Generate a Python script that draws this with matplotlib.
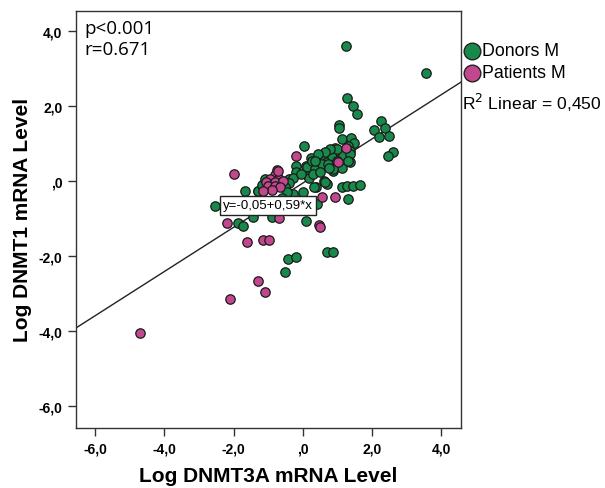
import matplotlib
matplotlib.use("Agg")
import matplotlib.pyplot as plt
from matplotlib.lines import Line2D
import numpy as np

# Log DNMT3A (x) and Log DNMT1 (y) expression, donors
donors_x = [1.25, 3.57, 1.29, 1.44, 1.58, 1.04, 1.06, 2.25, 2.06, 2.38, 2.19, 2.48,
            2.62, 2.46, 1.13, 1.40, 1.48, 1.32, 1.35, 0.04, 0.23, -0.19, -0.19, -0.39,
            0.10, 0.21, 0.48, 0.60, 0.55, 0.69, 0.84, 0.93, 1.08, 1.17, 1.37, 1.35,
            1.13, 0.88, 0.60, 0.69, 0.38, 1.14, 1.27, 1.45, 1.64, 0.00, 1.32, 0.98,
            0.79, 0.64, 0.45, -0.27, -0.40, -0.51, 0.12, 0.16, 0.28, -1.67, -1.28,
            0.17, -0.27, -0.46, -1.30, -1.19, -1.09, -2.53, -1.86, -1.73, -1.43,
            -0.90, 0.09, 0.69, 0.87, -0.44, -0.20, -0.50, 0.31, 0.64, 0.36, 0.55,
            0.74, 0.88, 0.98, 1.32, 0.42, 0.35, 0.75, 0.30, 0.50, -0.05, -0.60]
donors_y = [3.62, 2.90, 2.22, 2.01, 1.79, 1.50, 1.42, 1.62, 1.38, 1.41, 1.17, 1.22,
            0.79, 0.68, 1.13, 1.15, 1.03, 0.95, 0.82, 0.94, 0.61, 0.42, 0.24, 0.06,
            0.40, 0.33, 0.68, 0.64, 0.42, 0.51, 0.68, 0.88, 0.79, 0.70, 0.73, 0.51,
            0.35, 0.28, 0.02, -0.07, -0.16, -0.16, -0.13, -0.12, -0.10, -0.28, -0.47,
            0.86, 0.86, 0.79, 0.73, 0.09, -0.05, -0.14, 0.37, 0.15, 0.55, -0.27,
            -0.27, 0.10, -0.34, -0.29, -0.25, -0.09, 0.06, -0.65, -1.11, -1.20,
            -0.96, -0.96, -1.05, -1.88, -1.88, -2.07, -2.01, -2.43, -0.16, -0.03,
            0.33, 0.46, 0.46, 0.33, 0.55, 0.55, -0.61, 0.55, 0.35, 0.20, 0.25,
            0.20, -0.45]

# Log DNMT3A (x) and Log DNMT1 (y) expression, patients
patients_x = [-4.70, -2.11, -1.08, -1.30, -1.62, -1.16, -0.98, -2.20, -0.68, 0.48,
              0.50, 0.55, 0.93, -1.99, -0.19, -0.75, 1.25, 1.03, -0.80, -0.95,
              -0.70, -1.07, -0.80, -0.56, -0.99, -0.80, -0.66, -0.90, -1.14, -0.72]
patients_y = [-4.05, -3.14, -2.95, -2.67, -1.61, -1.57, -1.57, -1.12, -0.99, -1.18,
              -1.22, -0.43, -0.41, 0.19, 0.67, 0.31, 0.88, 0.51, 0.18, 0.06,
              0.06, -0.03, -0.03, 0.02, -0.12, -0.13, -0.14, -0.23, -0.25, 0.28]

fit_intercept = -0.05
fit_slope = 0.59
r_squared = 0.450
ticks = [-6.0, -4.0, -2.0, 0.0, 2.0, 4.0]

green = "#17894a"
pink = "#c2478e"


def comma_fmt(v):
    s = f"{v:.1f}".replace(".", ",")
    if s.startswith("0,"):
        s = s[1:]
    return s


fig = plt.figure(figsize=(6.05, 4.89), dpi=100)
ax = fig.add_axes([0.125, 0.123, 0.637, 0.853])
ax.set_xlim(-6.56, 4.57)
ax.set_ylim(-6.58, 4.55)

ax.scatter(donors_x, donors_y, s=46, color=green, edgecolor="#1a1a1a",
           linewidth=0.9, zorder=3)
ax.scatter(patients_x, patients_y, s=46, color=pink, edgecolor="#1a1a1a",
           linewidth=0.9, zorder=3)

xs = np.array(ax.get_xlim())
ax.plot(xs, fit_intercept + fit_slope * xs, color="#222222", lw=1.0, zorder=2)

ax.text(-1.0, -0.645, "y=-0,05+0,59*x", ha="center", va="center",
        fontsize=9.5, family="Liberation Sans", zorder=5,
        bbox=dict(boxstyle="square,pad=0.25", facecolor="white",
                  edgecolor="#222222", linewidth=1.0))

ax.text(9 / 385, 1 - 8 / 417, "p<0.001\nr=0.671", transform=ax.transAxes,
        ha="left", va="top", fontsize=13.5, family="Open Sans",
        linespacing=1.2)

ax.set_xticks(ticks)
ax.set_yticks(ticks)
ax.set_xticklabels([comma_fmt(t) for t in ticks], fontweight="bold",
                   family="Liberation Sans", fontsize=10)
ax.set_yticklabels([comma_fmt(t) for t in ticks], fontweight="bold",
                   family="Liberation Sans", fontsize=10)
ax.tick_params(direction="out", length=6, width=1, color="#333333",
               top=False, right=False)
for sp in ax.spines.values():
    sp.set_color("#333333")
    sp.set_linewidth(1.0)

ax.set_xlabel("Log DNMT3A mRNA Level", fontsize=15, fontweight="bold",
              family="Liberation Sans", labelpad=8)
ax.set_ylabel("Log DNMT1 mRNA Level", fontsize=15, fontweight="bold",
              family="Liberation Sans", labelpad=5)

# legend to the right of the axes
for yfig, col, lab in [(1 - 52 / 489, green, "Donors M"),
                       (1 - 74 / 489, pink, "Patients M")]:
    fig.add_artist(Line2D([472 / 605], [yfig], marker="o", markersize=12,
                          color=col, markeredgecolor="#222222",
                          markeredgewidth=1.0, linestyle="none",
                          transform=fig.transFigure))
    fig.text(482 / 605, yfig, lab, ha="left", va="center", fontsize=12.8,
             family="Liberation Sans")
fig.text(462 / 605, 1 - 103 / 489, "R$^2$ Linear = " + f"{r_squared:.3f}".replace(".", ","),
         ha="left", va="center", fontsize=12.6, family="Liberation Sans")

fig.savefig("out.png", dpi=100)
